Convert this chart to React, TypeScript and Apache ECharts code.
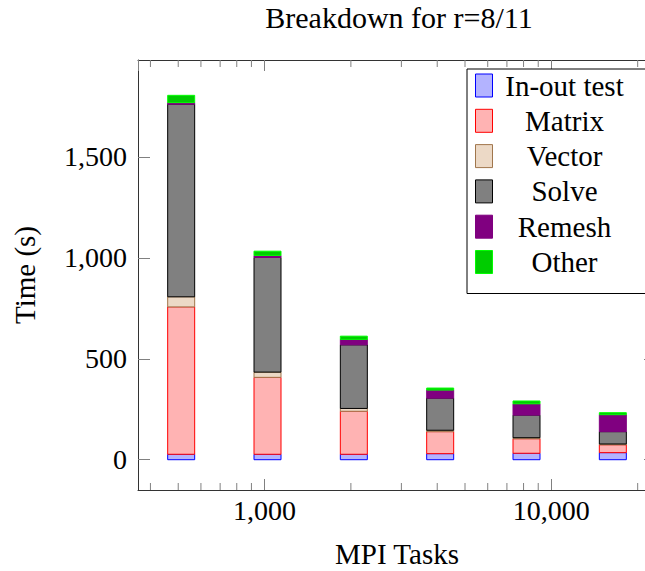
import React, { useEffect, useRef } from 'react';
import * as echarts from 'echarts';

const tasks = [512, 1024, 2048, 4096, 8192, 16384];
const seriesNames = ['In-out test', 'Matrix', 'Vector', 'Solve', 'Remesh', 'Other'];
const inOut = [27, 27, 27, 30, 32, 35];
const matrix = [730, 381, 213, 109, 72, 39];
const vector = [50, 26, 14, 7, 5, 4];
const solve = [954, 568, 315, 159, 112, 61];
const remesh = [8, 10, 27, 40, 56, 84];
const other = [36, 21, 16, 10, 14, 10];

const yTicks = [0, 500, 1000, 1500];
const xMinorTicks = [400, 500, 600, 700, 800, 900, 2000, 3000, 4000, 5000, 6000, 7000, 8000, 9000, 20000];

const fills = ['#b3b3ff', '#ffb3b3', '#ecd9c6', '#808080', '#800080', '#00cc00'];
const strokes = ['#0000ff', '#ff0000', '#a0764c', '#000000', '#800080', '#00ff00'];

const FONT = 'Liberation Serif';
const FS = 28;
const FS_BIG = 29;

export default function App() {
  const ref = useRef<HTMLDivElement>(null);
  useEffect(() => {
    const chart = echarts.init(ref.current!, null, { renderer: 'svg' });
    const comps = [inOut, matrix, vector, solve, remesh, other];
    const bases = tasks.map(() => 0);
    const barSeries = comps.map((vals, i) => {
      const data = tasks.map((t, j) => {
        const b = bases[j];
        const top = b + vals[j];
        bases[j] = top;
        return [t, b, top];
      });
      return {
        type: 'custom',
        name: seriesNames[i],
        data,
        encode: { x: 0, y: [1, 2] },
        itemStyle: { color: fills[i], borderColor: strokes[i], borderWidth: 1 },
        z: 3,
        renderItem: (params: any, api: any) => {
          const x = api.value(0);
          const b = api.value(1);
          const t = api.value(2);
          const p0 = api.coord([x, b]);
          const p1 = api.coord([x, t]);
          const w = 27;
          return {
            type: 'rect',
            shape: { x: p0[0] - w / 2, y: p1[1], width: w, height: p0[1] - p1[1] },
            style: { fill: fills[i], stroke: strokes[i], lineWidth: 1 },
          };
        },
      };
    });

    const minorTickSeries = {
      type: 'custom',
      name: '_minor',
      data: xMinorTicks.map((v) => [v, 0]),
      encode: { x: 0, y: 1 },
      silent: true,
      clip: false,
      z: 1,
      renderItem: (params: any, api: any) => {
        const cs = params.coordSys;
        const px = api.coord([api.value(0), 0])[0];
        const yb = cs.y + cs.height;
        const yt = cs.y;
        return {
          type: 'group',
          children: [
            { type: 'line', shape: { x1: px, y1: yb, x2: px, y2: yb - 7 }, style: { stroke: '#808080', lineWidth: 1 } },
            { type: 'line', shape: { x1: px, y1: yt, x2: px, y2: yt + 7 }, style: { stroke: '#808080', lineWidth: 1 } },
          ],
        };
      },
    };

    const fmt = (v: number) => Math.round(v).toLocaleString('en-US');

    chart.setOption({
      animation: false,
      backgroundColor: '#ffffff',
      title: {
        text: 'Breakdown for r=8/11',
        left: 'center',
        top: 2,
        padding: 0,
        textStyle: { fontFamily: FONT, fontSize: 30, fontWeight: 'normal', color: '#000' },
      },
      grid: { left: 138, width: 518, top: 60, height: 430, containLabel: false, outerBoundsMode: 'none' },
      legend: {
        data: seriesNames.map((n, i) => ({
          name: n,
          icon: 'rect',
          itemStyle: { color: fills[i], borderColor: strokes[i], borderWidth: 1 },
        })),
        orient: 'vertical',
        left: 467,
        top: 69,
        padding: [2, 22, 17, 8],
        itemGap: 6.3,
        itemWidth: 17,
        itemHeight: 23,
        backgroundColor: '#ffffff',
        borderColor: '#000000',
        borderWidth: 1,
        selectedMode: false,
        formatter: (name: string) => '{c|' + name + '}',
        textStyle: {
          fontFamily: FONT,
          fontSize: FS_BIG,
          color: '#000',
          rich: {
            c: { fontFamily: FONT, fontSize: FS_BIG, color: '#000', width: 134, align: 'center' },
          },
        },
      },
      xAxis: [
        {
          type: 'log',
          logBase: 10,
          min: 362,
          max: 23170,
          position: 'bottom',
          name: 'MPI Tasks',
          nameLocation: 'middle',
          nameGap: 49,
          nameMoveOverlap: false,
          nameTextStyle: { fontFamily: FONT, fontSize: FS_BIG, color: '#000' },
          axisLine: { show: true, onZero: false, lineStyle: { color: '#333', width: 1 } },
          axisTick: { show: true, inside: true, length: 11, lineStyle: { color: '#808080', width: 1 } },
          axisLabel: {
            show: true,
            margin: 6,
            showMinLabel: false,
            showMaxLabel: false,
            fontFamily: FONT,
            fontSize: FS,
            color: '#000',
            formatter: (v: number) => fmt(v),
          },
          splitLine: { show: false },
          minorTick: { show: false },
        },
        {
          type: 'log',
          logBase: 10,
          min: 362,
          max: 23170,
          position: 'top',
          axisLine: { show: true, onZero: false, lineStyle: { color: '#333', width: 1 } },
          axisTick: { show: true, inside: true, length: 11, lineStyle: { color: '#808080', width: 1 } },
          axisLabel: { show: false },
          splitLine: { show: false },
        },
      ],
      yAxis: [
        {
          type: 'value',
          min: -150,
          max: 1980,
          position: 'left',
          name: 'Time (s)',
          nameLocation: 'middle',
          nameGap: 99,
          nameTextStyle: { fontFamily: FONT, fontSize: FS_BIG, color: '#000' },
          axisLine: { show: true, onZero: false, lineStyle: { color: '#333', width: 1 } },
          axisTick: { show: true, inside: true, length: 12, customValues: yTicks, lineStyle: { color: '#808080', width: 1 } },
          axisLabel: {
            show: true,
            margin: 11,
            customValues: yTicks,
            fontFamily: FONT,
            fontSize: FS,
            color: '#000',
            formatter: (v: number) => fmt(v),
          },
          splitLine: { show: false },
        },
        {
          type: 'value',
          min: -150,
          max: 1980,
          position: 'right',
          axisLine: { show: true, onZero: false, lineStyle: { color: '#333', width: 1 } },
          axisTick: { show: true, inside: true, length: 12, customValues: yTicks, lineStyle: { color: '#808080', width: 1 } },
          axisLabel: { show: false },
          splitLine: { show: false },
        },
      ],
      series: [minorTickSeries, ...barSeries],
    });
    return () => chart.dispose();
  }, []);
  return (
    <div
      ref={ref}
      style={{ position: 'fixed', left: 0, top: 0, width: 798, height: 571 }}
    />
  );
}
